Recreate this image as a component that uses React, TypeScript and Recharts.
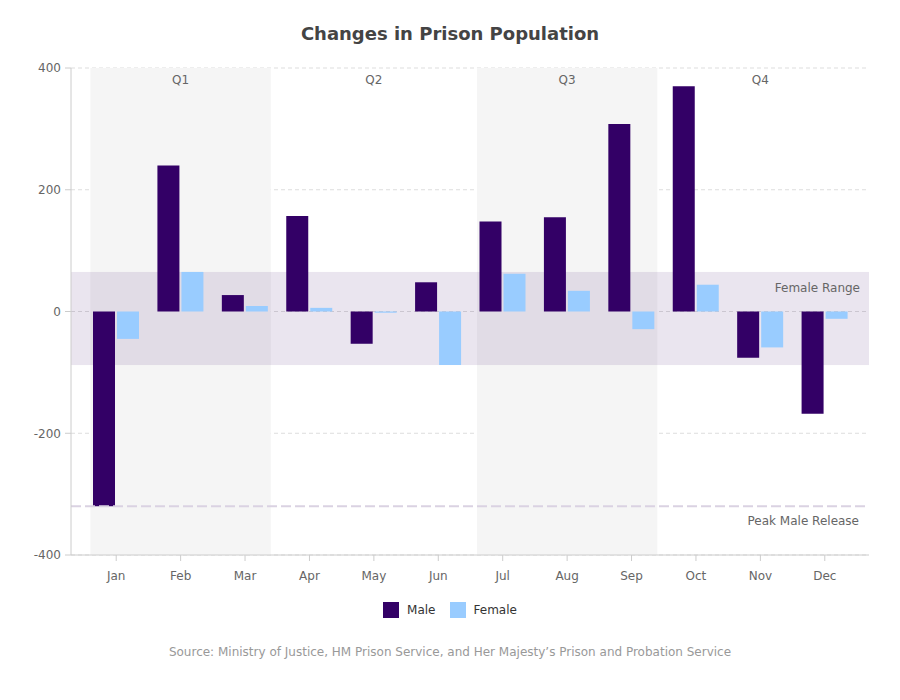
import React from "react";
import {
  BarChart,
  Bar,
  XAxis,
  YAxis,
  CartesianGrid,
  ReferenceArea,
  ReferenceLine,
} from "recharts";

const months = ["Jan", "Feb", "Mar", "Apr", "May", "Jun", "Jul", "Aug", "Sep", "Oct", "Nov", "Dec"];
const maleValues = [-320, 240, 27, 157, -53, 48, 148, 155, 308, 370, -76, -168];
const femaleValues = [-45, 65, 9, 6, -2, -88, 62, 34, -29, 44, -59, -12];
const yTicks = [-400, -200, 0, 200, 400];
const quarters = [
  { label: "Q1", start: "Jan", end: "Mar", shaded: true },
  { label: "Q2", start: "Apr", end: "Jun", shaded: false },
  { label: "Q3", start: "Jul", end: "Sep", shaded: true },
  { label: "Q4", start: "Oct", end: "Dec", shaded: false },
];
const femaleMin = Math.min(...femaleValues);
const femaleMax = Math.max(...femaleValues);
const peakMaleRelease = Math.min(...maleValues);

const data = months.map((m, i) => ({ month: m, male: maleValues[i], female: femaleValues[i] }));

const FONT = "'DejaVu Sans', Verdana, sans-serif";
const PAD_L = 13;
const PAD_R = 12;

const QuarterShape = (props: any) => {
  const { x, y, width, height, fill } = props;
  const band = width / 3;
  const inset = band * 0.1;
  return <rect x={x + inset} y={y} width={width - 2 * inset} height={height} fill={fill} />;
};

const FullWidthArea = (props: any) => {
  const { x, y, width, height, fill, fillOpacity } = props;
  return (
    <rect
      x={x - PAD_L}
      y={y}
      width={width + PAD_L + PAD_R}
      height={height}
      fill={fill}
      fillOpacity={fillOpacity}
    />
  );
};

export default function App() {
  return (
    <div
      style={{
        position: "fixed",
        left: 0,
        top: 0,
        width: 900,
        height: 700,
        background: "#fff",
        fontFamily: FONT,
      }}
    >
      <div
        style={{
          position: "absolute",
          top: 23,
          left: 0,
          width: 900,
          textAlign: "center",
          fontSize: 18,
          fontWeight: "bold",
          color: "#444",
        }}
      >
        Changes in Prison Population
      </div>
      <div style={{ position: "absolute", left: 0, top: 0 }}>
        <BarChart
          width={900}
          height={590}
          data={data}
          margin={{ top: 68, right: 31, left: 0, bottom: 5 }}
          barSize={22}
          barGap={2}
        >
          {quarters.map((q) => (
            <ReferenceArea
              key={q.label}
              x1={q.start}
              x2={q.end}
              fill={q.shaded ? "#f5f5f5" : "none"}
              fillOpacity={1}
              stroke="none"
              shape={QuarterShape}
              label={{
                value: q.label,
                position: "insideTop",
                offset: 7,
                fill: "#666",
                fontSize: 12,
                fontFamily: FONT,
              }}
            />
          ))}
          <ReferenceArea
            y1={femaleMin}
            y2={femaleMax}
            fill="#330066"
            fillOpacity={0.1}
            stroke="none"
            shape={FullWidthArea}
            label={{
              value: "Female Range",
              position: "insideTopRight",
              offset: 12,
              dx: 15,
              fill: "#666",
              fontSize: 12,
              fontFamily: FONT,
            }}
          />
          <CartesianGrid vertical={false} stroke="#dddddd" strokeDasharray="4 3" />
          <XAxis
            dataKey="month"
            padding={{ left: PAD_L, right: PAD_R }}
            stroke="#cccccc"
            tickSize={6}
            tickMargin={10}
            height={30}
            tick={{ fill: "#666", fontSize: 12, fontFamily: FONT }}
          />
          <YAxis
            width={71}
            domain={[-400, 400]}
            ticks={yTicks}
            stroke="#cccccc"
            tickSize={6}
            tickMargin={4}
            tick={{ fill: "#666", fontSize: 12, fontFamily: FONT }}
          />
          <Bar dataKey="male" name="Male" fill="#330066" isAnimationActive={false} />
          <Bar dataKey="female" name="Female" fill="#99ccff" isAnimationActive={false} />
          <ReferenceLine
            y={peakMaleRelease}
            stroke="#dad2e2"
            strokeWidth={2}
            strokeDasharray="10 4"
            label={{
              value: "Peak Male Release",
              position: "insideTopRight",
              offset: 10,
              fill: "#666",
              fontSize: 12,
              fontFamily: FONT,
            }}
          />
        </BarChart>
      </div>
      <div
        style={{
          position: "absolute",
          top: 602,
          left: 0,
          width: 900,
          display: "flex",
          justifyContent: "center",
          alignItems: "center",
          fontSize: 12,
          lineHeight: "16px",
          color: "#333",
        }}
      >
        <span style={{ display: "inline-block", width: 16, height: 16, background: "#330066", marginRight: 8 }} />
        <span style={{ marginRight: 14 }}>Male</span>
        <span style={{ display: "inline-block", width: 16, height: 16, background: "#99ccff", marginRight: 8 }} />
        <span>Female</span>
      </div>
      <div
        style={{
          position: "absolute",
          top: 645,
          left: 0,
          width: 900,
          textAlign: "center",
          fontSize: 12,
          color: "#999",
        }}
      >
        Source: Ministry of Justice, HM Prison Service, and Her Majesty’s Prison and Probation Service
      </div>
    </div>
  );
}
